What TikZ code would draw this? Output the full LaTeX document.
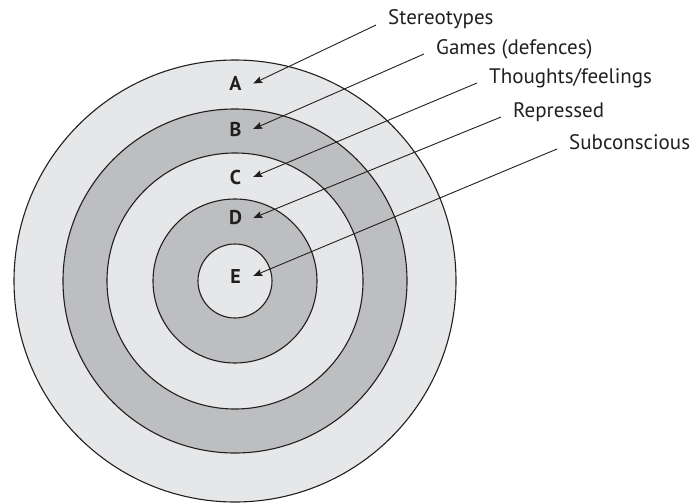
\documentclass[tikz,border=0pt]{standalone}
\usepackage{fontspec}
\setmainfont{PT Sans}
\usetikzlibrary{arrows.meta}
\definecolor{ringlight}{HTML}{E6E7E8}
\definecolor{ringdark}{HTML}{BCBEC0}
\definecolor{ink}{HTML}{231F20}

\begin{document}
\begin{tikzpicture}[x=1pt,y=-1pt,
    ring/.style={circle,draw=ink,line width=1.1pt,inner sep=0pt},
    letter/.style={font=\bfseries\fontsize{20pt}{20pt}\selectfont,text=ink,minimum width=35pt,inner sep=0pt},
    layer/.style={font=\fontsize{21pt}{21pt}\selectfont,text=ink,anchor=base west,inner xsep=12pt,inner ysep=0pt},
    pointer/.style={draw=ink,line width=0.9pt,-{Stealth[length=9pt,width=7pt,inset=1.5pt]}}]
            \useasboundingbox (0,0) rectangle (695,503);
            \node (ra) at (235,281) [ring,fill=ringlight,minimum size=442pt] {};
            \node (rb) at (235,281) [ring,fill=ringdark,minimum size=344pt] {};
            \node (rc) at (235,281) [ring,fill=ringlight,minimum size=256pt] {};
            \node (rd) at (235,281) [ring,fill=ringdark,minimum size=164pt] {};
            \node (re) at (235,281) [ring,fill=ringlight,minimum size=74pt] {};

            \node (a) at (235.5,83.5) [letter] {A};
            \node (b) at (235.5,129) [letter] {B};
            \node (c) at (235.5,177) [letter] {C};
            \node (d) at (235.5,218) [letter] {D};
            \node (e) at (235.5,276) [letter] {E};

            \node (ta) at (376,25) [layer] {Stereotypes};
            \node (tb) at (424,54) [layer] {Games (defences)};
            \node (tc) at (477,83) [layer] {Thoughts/feelings};
            \node (td) at (501,117) [layer] {Repressed};
            \node (te) at (557,149) [layer] {Subconscious};

            \draw[pointer] (ta.base west) -- (a.east);
            \draw[pointer] (tb.base west) -- (b.east);
            \draw[pointer] (tc.base west) -- (c.east);
            \draw[pointer] (td.base west) -- (d.east);
            \draw[pointer] (te.base west) -- (e.east);
\end{tikzpicture}
\end{document}
